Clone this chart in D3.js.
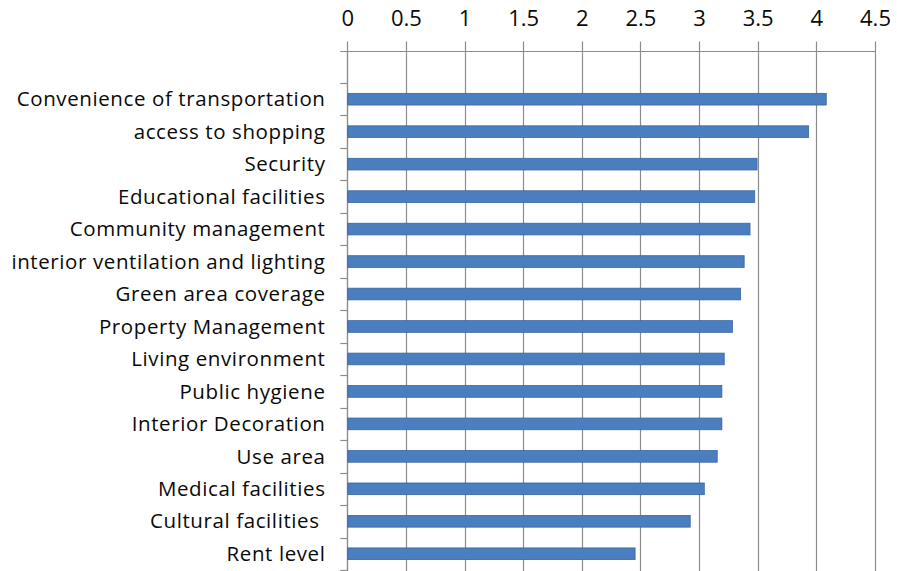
<!DOCTYPE html>
<html>
<head>
<meta charset="utf-8">
<script src="https://cdn.jsdelivr.net/npm/d3@7"></script>
<style>
  html, body { margin: 0; padding: 0; background: #fff; }
  svg { display: block; }
  text { font-family: "Open Sans", Lato, sans-serif; fill: #0a0a0a; }
</style>
</head>
<body>
<svg id="chart" width="897" height="571"></svg>
<script>
// Factor categories, top to bottom
const categories = [
  "Convenience of transportation",
  "access to shopping",
  "Security",
  "Educational facilities",
  "Community management",
  "interior ventilation and lighting",
  "Green area coverage",
  "Property Management",
  "Living environment",
  "Public hygiene",
  "Interior Decoration",
  "Use area",
  "Medical facilities",
  "Cultural facilities ",
  "Rent level"
];

// Mean scores
const scores = [4.08, 3.93, 3.49, 3.47, 3.43, 3.38, 3.35, 3.28, 3.21, 3.19, 3.19, 3.15, 3.04, 2.92, 2.45];

// Axis ticks
const xTicks = [0, 0.5, 1, 1.5, 2, 2.5, 3, 3.5, 4, 4.5];

const svg = d3.select("#chart");
const plotLeft = 347.3, plotRight = 875, plotTop = 50.5, plotBottom = 570;
const gridColor = "#8c8c8c";

const x = d3.scaleLinear().domain([0, 4.5]).range([plotLeft, plotRight]);

// one blank slot above the first category
const slots = ["__blank__"].concat(categories);
const y = d3.scaleBand().domain(slots).range([plotTop, plotBottom])
  .paddingInner(0.64).paddingOuter(0.32);

// vertical gridlines (extend up as outside ticks of the top axis)
svg.append("g")
  .selectAll("line")
  .data(xTicks)
  .join("line")
  .attr("x1", d => Math.round(x(d)) + 0.5)
  .attr("x2", d => Math.round(x(d)) + 0.5)
  .attr("y1", plotTop - 9)
  .attr("y2", 571)
  .attr("stroke", gridColor)
  .attr("stroke-width", 1.2);

// top value axis
const xAxis = d3.axisTop(x).tickValues(xTicks).tickSize(0).tickPadding(0)
  .tickFormat(d3.format("~g"));
const gx = svg.append("g").attr("transform", `translate(0,${plotTop})`).call(xAxis);
gx.select(".domain").remove();
gx.selectAll(".tick text")
  .attr("y", -25)
  .attr("font-size", 22)
  .attr("font-family", null)
  .attr("fill", "#0a0a0a");

// horizontal axis line
svg.append("line")
  .attr("x1", plotLeft - 7).attr("x2", Math.round(plotRight) + 0.5)
  .attr("y1", Math.round(plotTop) + 0.5).attr("y2", Math.round(plotTop) + 0.5)
  .attr("stroke", gridColor).attr("stroke-width", 1.2);

// category axis line
svg.append("line")
  .attr("x1", Math.round(plotLeft) + 0.5).attr("x2", Math.round(plotLeft) + 0.5)
  .attr("y1", plotTop).attr("y2", 571)
  .attr("stroke", gridColor).attr("stroke-width", 1.2);

// category boundary ticks
svg.append("g")
  .selectAll("line")
  .data(slots.slice(1).concat(["__end__"]))
  .join("line")
  .attr("x1", plotLeft - 7)
  .attr("x2", plotLeft)
  .attr("y1", (d, i) => Math.round(plotTop + (i + 1) * y.step()) + 0.5)
  .attr("y2", (d, i) => Math.round(plotTop + (i + 1) * y.step()) + 0.5)
  .attr("stroke", gridColor)
  .attr("stroke-width", 1.2);

// bars
const rows = categories.map((c, i) => ({ name: c, value: scores[i] }));
svg.append("g")
  .selectAll("rect")
  .data(rows)
  .join("rect")
  .attr("x", x(0) + 0.5)
  .attr("y", d => y(d.name))
  .attr("width", d => x(d.value) - x(0))
  .attr("height", y.bandwidth())
  .attr("fill", "#4a7ebf")
  .attr("stroke", "#3866a3")
  .attr("stroke-width", 0.8);

// category labels
svg.append("g")
  .selectAll("text")
  .data(rows)
  .join("text")
  .attr("x", 325.5)
  .attr("y", d => y(d.name) + y.bandwidth() / 2)
  .attr("dy", "0.35em")
  .attr("text-anchor", "end")
  .attr("font-size", 20.5)
  .attr("letter-spacing", 0.6)
  .style("white-space", "pre")
  .text(d => d.name);
</script>
</body>
</html>
